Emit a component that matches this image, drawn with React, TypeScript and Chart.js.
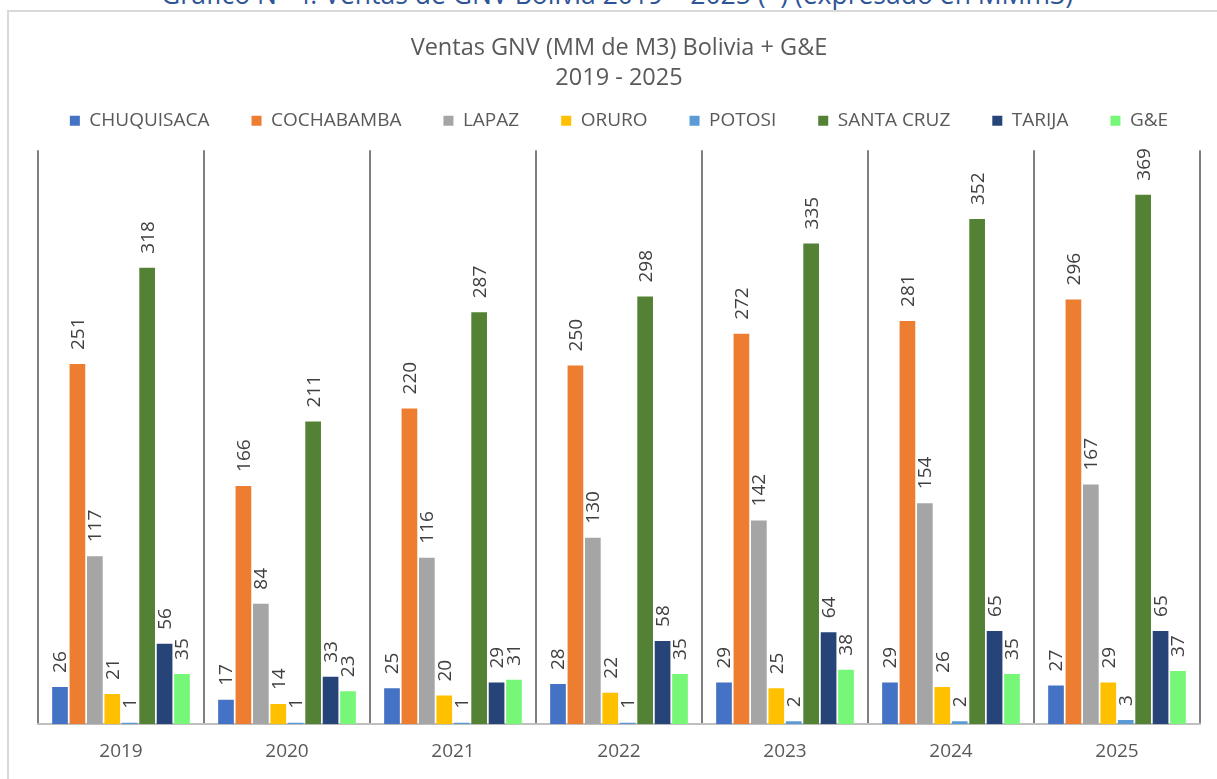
import React, { useEffect, useRef } from "react";
import { Chart, registerables } from "chart.js";

Chart.register(...registerables);

const years = ["2019", "2020", "2021", "2022", "2023", "2024", "2025"];
const chuquisaca = [26, 17, 25, 28, 29, 29, 27];
const cochabamba = [251, 166, 220, 250, 272, 281, 296];
const lapaz = [117, 84, 116, 130, 142, 154, 167];
const oruro = [21, 14, 20, 22, 25, 26, 29];
const potosi = [1, 1, 1, 1, 2, 2, 3];
const santaCruz = [318, 211, 287, 298, 335, 352, 369];
const tarija = [56, 33, 29, 58, 64, 65, 65];
const gye = [35, 23, 31, 35, 38, 35, 37];

const seriesNames = ["CHUQUISACA", "COCHABAMBA", "LAPAZ", "ORURO", "POTOSI", "SANTA CRUZ", "TARIJA", "G&E"];
const seriesValues = [chuquisaca, cochabamba, lapaz, oruro, potosi, santaCruz, tarija, gye];
const seriesColors = ["#4472C4", "#ED7D31", "#A5A5A5", "#FFC000", "#5B9BD5", "#548235", "#264478", "#77F777"];

const valueLabels = {
  id: "valueLabels",
  afterDatasetsDraw(chart: any) {
    const ctx = chart.ctx;
    ctx.save();
    ctx.fillStyle = "#404040";
    ctx.font = "19px 'Open Sans'";
    ctx.textAlign = "left";
    ctx.textBaseline = "middle";
    chart.data.datasets.forEach((ds: any, di: number) => {
      const meta = chart.getDatasetMeta(di);
      meta.data.forEach((el: any, i: number) => {
        ctx.save();
        ctx.translate(el.x + 1, el.y - 14);
        ctx.rotate(-Math.PI / 2);
        ctx.fillText(String(ds.data[i]), 0, 0);
        ctx.restore();
      });
    });
    ctx.restore();
  },
};

const legendSpacer = {
  id: "legendSpacer",
  beforeInit(chart: any) {
    const legend = chart.legend;
    if (!legend) return;
    const fit = legend.fit;
    legend.fit = function () {
      this.maxWidth = Math.max(this.maxWidth, 1300);
      fit.call(this);
      this.height += 10;
    };
  },
  afterLayout(chart: any) {
    const legend = chart.legend;
    if (!legend) return;
    legend.left -= 40;
    legend.right += 40;
  },
};

export default function App() {
  const ref = useRef<HTMLCanvasElement>(null);
  useEffect(() => {
    if (!ref.current) return;
    const chart = new Chart(ref.current, {
      type: "bar",
      data: {
        labels: years,
        datasets: seriesNames.map((n, i) => ({
          label: n,
          data: seriesValues[i],
          backgroundColor: seriesColors[i],
          borderWidth: 0,
          categoryPercentage: 0.84,
          barPercentage: 0.9,
        })),
      },
      options: {
        animation: false,
        responsive: false,
        maintainAspectRatio: false,
        layout: { padding: { left: 38, right: 17, top: 33, bottom: 0 } },
        plugins: {
          title: {
            display: true,
            text: ["Ventas GNV (MM de M3) Bolivia + G&E", "2019 - 2025"],
            color: "#595959",
            font: { family: "'Open Sans'", size: 23.5, weight: "normal", lineHeight: 1.28 },
            padding: { top: 0, bottom: -24 },
          },
          legend: {
            display: true,
            labels: {
              boxWidth: 10,
              boxHeight: 10,
              padding: 42,
              color: "#595959",
              font: { family: "'Open Sans'", size: 19 },
            },
          },
          tooltip: { enabled: false },
        },
        scales: {
          x: {
            grid: { display: true, offset: true, color: "#7F7F7F", lineWidth: 2, drawTicks: false },
            border: { display: true, color: "#BFBFBF", width: 2 },
            ticks: { color: "#595959", font: { family: "'Open Sans'", size: 19 }, padding: 16 },
          },
          y: { display: false, min: 0, max: 400 },
        },
      },
      plugins: [valueLabels, legendSpacer],
    });
    return () => chart.destroy();
  }, []);
  return (
    <div style={{ position: "fixed", left: 0, top: 0, width: 1217, height: 779, background: "#fff", overflow: "hidden" }}>
      <div
        style={{
          position: "absolute",
          left: 0,
          top: -24,
          width: 1234,
          textAlign: "center",
          fontFamily: "'Open Sans'",
          fontSize: 26.5,
          lineHeight: "36px",
          color: "#2F5597",
          whiteSpace: "nowrap",
        }}
      >
        Gráfico N° 4: Ventas de GNV Bolivia 2019 – 2025 (*) (expresado en MMm3)
      </div>
      <div
        style={{
          position: "absolute",
          left: 7,
          top: 10,
          width: 1240,
          height: 800,
          borderTop: "2px solid #D9D9D9",
          borderLeft: "2px solid #D9D9D9",
        }}
      />
      <canvas ref={ref} width={1217} height={779} style={{ position: "absolute", left: 0, top: 0 }} />
    </div>
  );
}
